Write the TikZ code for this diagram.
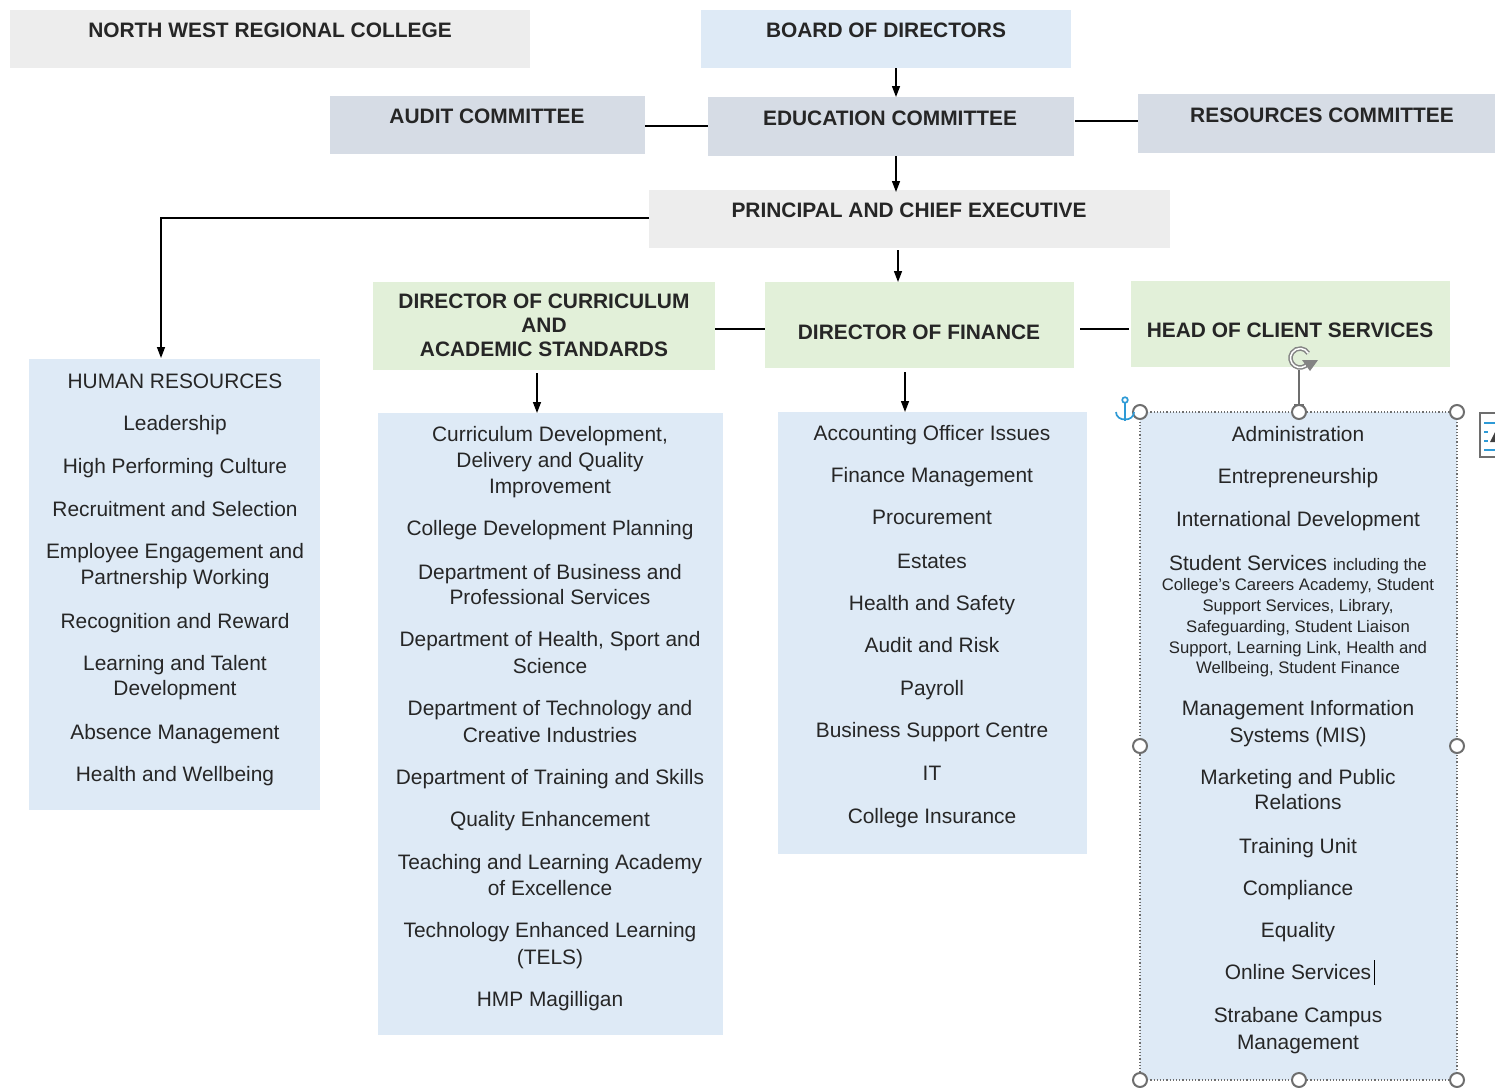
\documentclass[tikz,border=0pt]{standalone}
\usepackage{fontspec}
\setmainfont{Liberation Sans}
\usetikzlibrary{arrows.meta,calc}
\definecolor{txt}{HTML}{262626}
\definecolor{cgray}{HTML}{EDEDED}
\definecolor{cblue}{HTML}{DEEAF6}
\definecolor{cslate}{HTML}{D6DCE5}
\definecolor{cgreen}{HTML}{E2F0D9}
\definecolor{uigray}{HTML}{6E6E6E}
\definecolor{uiblue}{HTML}{2E9AD6}
\begin{document}
\begin{tikzpicture}[x=1pt,y=-1pt,
  box/.style={rectangle,draw=none,inner sep=0pt,outer sep=0pt,anchor=north west},
  hd/.style={inner sep=0pt,text=txt,font=\fontsize{20.9}{25}\selectfont\bfseries,text height=15pt,text depth=0pt,align=center},
  it/.style={inner sep=0pt,text=txt,font=\fontsize{20.9}{25}\selectfont,text height=15pt,text depth=0pt},
  sm/.style={inner sep=0pt,text=txt,font=\fontsize{16.7}{20}\selectfont,text height=12pt,text depth=0pt},
  conn/.style={draw=black,line width=1.4pt},
  arr/.style={conn,-{Triangle[length=11pt,width=8pt]}},
  handle/.style={circle,draw=uigray,fill=white,line width=2pt,minimum size=14pt,inner sep=0pt}]
\useasboundingbox (0,0) rectangle (1495,1087);
\fill[white] (0,0) rectangle (1495,1087);

% ---------- boxes ----------
\node[box,fill=cgray,minimum width=520pt,minimum height=58pt] (nwrc) at (10,10) {};
\node[box,fill=cblue,minimum width=370pt,minimum height=58pt] (board) at (701,10) {};
\node[box,fill=cslate,minimum width=315pt,minimum height=58pt] (audit) at (330,96) {};
\node[box,fill=cslate,minimum width=366pt,minimum height=59pt] (edu) at (708,97) {};
\node[box,fill=cslate,minimum width=360pt,minimum height=59pt] (res) at (1138,94) {};
\node[box,fill=cgray,minimum width=521pt,minimum height=58pt] (prin) at (649,190) {};
\node[box,fill=cgreen,minimum width=342pt,minimum height=88pt] (dcur) at (373,282) {};
\node[box,fill=cgreen,minimum width=309pt,minimum height=86pt] (dfin) at (765,282) {};
\node[box,fill=cgreen,minimum width=319pt,minimum height=86pt] (hcs) at (1131,281) {};
\node[box,fill=cblue,minimum width=291pt,minimum height=451pt] (hr) at (29,359) {};
\node[box,fill=cblue,minimum width=345pt,minimum height=622pt] (lcur) at (378,413) {};
\node[box,fill=cblue,minimum width=309pt,minimum height=442pt] (lfin) at (778,412) {};
\node[box,fill=cblue,minimum width=317pt,minimum height=668pt] (lcs) at (1140,412) {};

% ---------- headings ----------
\node[hd] (tnwrc) at (270,30) {NORTH WEST REGIONAL COLLEGE};
\node[hd] (tboard) at (886,30) {BOARD OF DIRECTORS};
\node[hd] (taudit) at (487,116) {AUDIT COMMITTEE};
\node[hd] (tedu) at (890,118) {EDUCATION COMMITTEE};
\node[hd] (tres) at (1322,115) {RESOURCES COMMITTEE};
\node[hd] (tprin) at (909,210) {PRINCIPAL AND CHIEF EXECUTIVE};
\node[hd] (tdcur1) at (544,301) {DIRECTOR OF CURRICULUM};
\node[hd] (tdcur2) at (544,325) {AND};
\node[hd] (tdcur3) at (544,349) {ACADEMIC STANDARDS};
\node[hd] (tdfin) at (919,332) {DIRECTOR OF FINANCE};
\node[hd] (thcs) at (1290,330) {HEAD OF CLIENT SERVICES};

% ---------- HR list ----------
\foreach \yy/\tx [count=\i] in {381/{HUMAN RESOURCES},423/{Leadership},466/{High Performing Culture},509/{Recruitment and Selection},551/{Employee Engagement and},577/{Partnership Working},621/{Recognition and Reward},663/{Learning and Talent},688/{Development},732/{Absence Management},774/{Health and Wellbeing}}
  \node[it] (hr\i) at (175,\yy) {\tx};

% ---------- Curriculum list ----------
\foreach \yy/\tx [count=\i] in {434/{Curriculum Development,},460/{Delivery and Quality},486/{Improvement},528/{College Development Planning},572/{Department of Business and},597/{Professional Services},639/{Department of Health, Sport and},666/{Science},708/{Department of Technology and},735/{Creative Industries},777/{Department of Training and Skills},819/{Quality Enhancement},862/{Teaching and Learning Academy},888/{of Excellence},930/{Technology Enhanced Learning},957/{(TELS)},999/{HMP Magilligan}}
  \node[it] (cu\i) at (550,\yy) {\tx};

% ---------- Finance list ----------
\foreach \yy/\tx [count=\i] in {433/{Accounting Officer Issues},475/{Finance Management},517/{Procurement},561/{Estates},603/{Health and Safety},645/{Audit and Risk},688/{Payroll},730/{Business Support Centre},773/{IT},816/{College Insurance}}
  \node[it] (fi\i) at (932,\yy) {\tx};

% ---------- Client services list ----------
\foreach \yy/\tx [count=\i] in {434/{Administration},476/{Entrepreneurship},519/{International Development},708/{Management Information},735/{Systems (MIS)},777/{Marketing and Public},802/{Relations},846/{Training Unit},888/{Compliance},930/{Equality},972/{Online Services},1015/{Strabane Campus},1042/{Management}}
  \node[it] (cs\i) at (1298,\yy) {\tx};
\node[it] (ss0) at (1298,563) {Student Services {\fontsize{16.7}{20}\selectfont including the}};
\foreach \yy/\tx [count=\i] in {584/{College’s Careers Academy, Student},605/{Support Services, Library,},626/{Safeguarding, Student Liaison},647/{Support, Learning Link, Health and},667/{Wellbeing, Student Finance}}
  \node[sm] (ss\i) at (1298,\yy) {\tx};

% ---------- connectors ----------
\coordinate (xa) at (896,0);
\coordinate (xb) at (898,0);
\coordinate (xh) at (161,0);
\coordinate (xc) at (537,0);
\coordinate (xf) at (905,0);
\draw[arr] (board.south -| xa) -- (edu.north -| xa);
\draw[arr] (edu.south -| xa) -- ([yshift=-2pt]prin.north -| xa);
\draw[conn] ([yshift=-1pt]audit.east) -- ([yshift=-1pt]audit.east -| edu.west);
\draw[conn] ([xshift=1pt,yshift=5.5pt]edu.east) -- ([yshift=2.5pt]res.west);
\draw[arr] (prin.west |- 0,218) -| ([yshift=1pt]hr.north -| xh);
\draw[arr] ([yshift=-2pt]prin.south -| xb) -- (dfin.north -| xb);
\draw[conn] ([yshift=-3pt]dcur.east) -- ([yshift=-3pt]dcur.east -| dfin.west);
\draw[conn] ([xshift=6pt,yshift=-4pt]dfin.east) -- ([xshift=-2pt,yshift=-5pt]hcs.west);
\draw[arr] ([yshift=-3pt]dcur.south -| xc) -- (lcur.north -| xc);
\draw[arr] ([yshift=-4pt]dfin.south -| xf) -- (lfin.north -| xf);

% ---------- selection frame (as shown) ----------
\draw[uigray,line width=1.2pt,dotted] (lcs.north west) rectangle (lcs.south east);
\draw[uigray,line width=1.6pt] (1299,370) -- (1299,406);
\draw[uigray,line width=1.6pt] (1294,405) -- (1304,405);
\foreach \hx/\hy [count=\i] in {1140/412,1299/412,1457/412,1140/746,1457/746,1140/1080,1299/1080,1457/1080}
  \node[handle] (h\i) at (\hx,\hy) {};
% rotation handle
\draw[uigray!85,line width=4.5pt] (1300,358) ++(35:9.5) arc[start angle=35,end angle=330,radius=9.5];
\draw[white,line width=1.5pt] (1300,358) ++(35:9.5) arc[start angle=35,end angle=330,radius=9.5];
\fill[uigray!85] (1302,360) -- (1318,360) -- (1310,371) -- cycle;
% anchor icon
\begin{scope}[uiblue,line width=1.7pt]
\draw (1125,400) circle (2.8);
\draw (1125,403) -- (1125,421);
\draw (1116,412) .. controls (1116,422) and (1134,422) .. (1134,412);
\end{scope}
% layout options icon
\draw[uigray,line width=1.5pt,fill=white] (1480,413) rectangle (1500,457);
\draw[uiblue,line width=1.2pt] (1484,423) -- (1500,423) (1484,432) -- (1488,432) (1484,441) -- (1488,441) (1484,450) -- (1500,450);
\fill[black!75] (1490,442) -- (1495,432) -- (1500,430) -- (1500,442) -- cycle;
% text cursor
\draw[black,line width=1pt] (1374,960) -- (1374,985);
\end{tikzpicture}
\end{document}
